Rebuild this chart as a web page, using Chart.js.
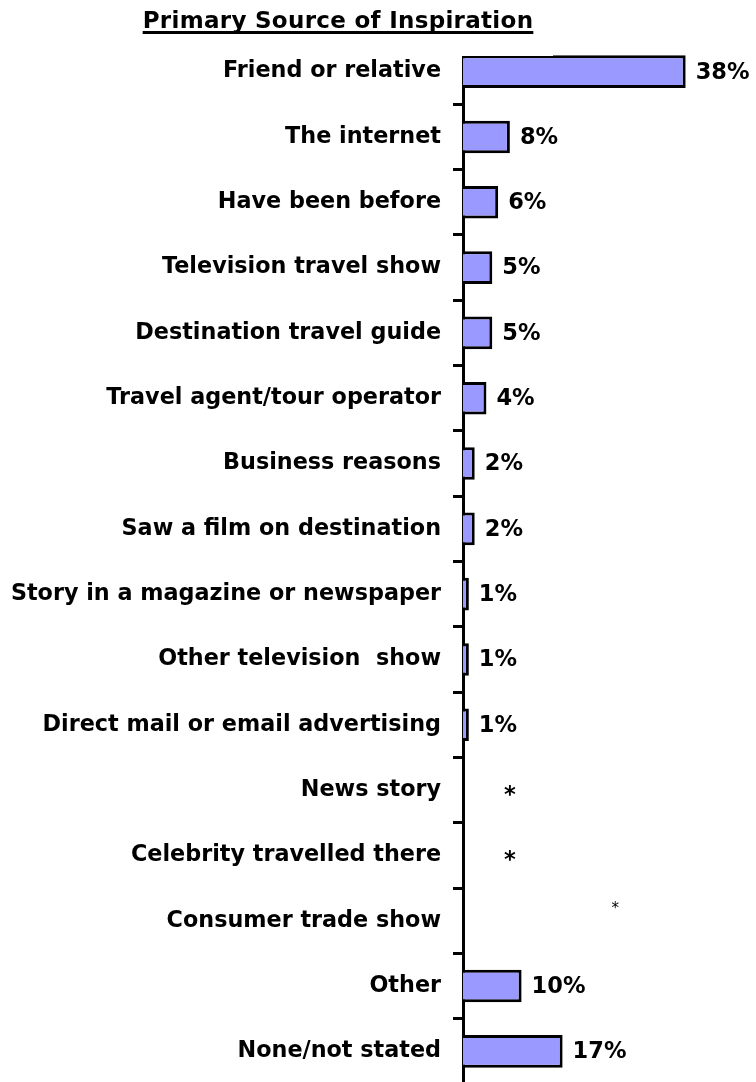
<!DOCTYPE html>
<html>
<head>
<meta charset="utf-8">
<script src="https://cdn.jsdelivr.net/npm/chart.js@4/dist/chart.umd.min.js"></script>
<style>
  html, body { margin: 0; padding: 0; background: #ffffff; overflow: hidden; }
  #wrap { width: 756px; height: 1084px; }
</style>
</head>
<body>
<div id="wrap"><canvas id="c" width="756" height="1084"></canvas></div>
<script>
// Survey results: main source of inspiration for choosing the destination
const chartTitle = 'Primary Source of Inspiration';

const categories = [
  'Friend or relative',
  'The internet',
  'Have been before',
  'Television travel show',
  'Destination travel guide',
  'Travel agent/tour operator',
  'Business reasons',
  'Saw a film on destination',
  'Story in a magazine or newspaper',
  'Other television  show',
  'Direct mail or email advertising',
  'News story',
  'Celebrity travelled there',
  'Consumer trade show',
  'Other',
  'None/not stated'
];

// percent of respondents; null = below 0.5% (shown as *)
const shares = [38, 8, 6, 5, 5, 4, 2, 2, 1, 1, 1, null, null, null, 10, 17];

const shareLabels = ['38%', '8%', '6%', '5%', '5%', '4%', '2%', '2%', '1%', '1%', '1%', '*', '*', '*', '10%', '17%'];

const FONT = '"DejaVu Sans", Verdana, sans-serif';

// Title with its white backing box and underline
const titlePlugin = {
  id: 'titleBox',
  afterDatasetsDraw(chart) {
    const ctx = chart.ctx;
    ctx.save();
    ctx.fillStyle = '#ffffff';
    ctx.fillRect(0, 0, 553, 56);
    ctx.font = 'bold 23px ' + FONT;
    ctx.letterSpacing = '0.3px';
    ctx.fillStyle = '#000000';
    ctx.textAlign = 'left';
    ctx.textBaseline = 'alphabetic';
    const w = ctx.measureText(chartTitle).width;
    const x0 = 338 - w / 2;
    const base = 28;
    ctx.fillText(chartTitle, x0, base);
    ctx.fillRect(x0, base + 3, w, 3);
    ctx.restore();
  }
};

// Value labels at the end of each bar; asterisks for values under 0.5%
const valueLabelPlugin = {
  id: 'valueLabels',
  afterDatasetsDraw(chart) {
    const ctx = chart.ctx;
    const xs = chart.scales.x;
    const ys = chart.scales.y;
    ctx.save();
    ctx.fillStyle = '#000000';
    ctx.textBaseline = 'middle';
    let starCount = 0;
    shares.forEach((v, i) => {
      const y = ys.getPixelForValue(i);
      if (v !== null) {
        ctx.font = 'bold 22.5px ' + FONT;
        ctx.textAlign = 'left';
        ctx.fillText(shareLabels[i], xs.getPixelForValue(v) + 10, y + 1);
      } else {
        starCount++;
        ctx.textAlign = 'center';
        if (starCount < 3) {
          ctx.font = 'bold 22.5px ' + FONT;
          ctx.fillText(shareLabels[i], xs.getPixelForValue(8), y + 6);
        } else {
          ctx.font = '15px ' + FONT;
          ctx.fillText(shareLabels[i], xs.getPixelForValue(26), y - 12);
        }
      }
    });
    ctx.restore();
  }
};

new Chart(document.getElementById('c'), {
  type: 'bar',
  data: {
    labels: categories,
    datasets: [{
      data: shares,
      backgroundColor: '#9999FF',
      borderColor: '#000000',
      borderWidth: 3,
      barPercentage: 0.5,
      categoryPercentage: 1.0
    }]
  },
  options: {
    indexAxis: 'y',
    responsive: false,
    animation: false,
    layout: { padding: { top: 39, left: 0, right: 0, bottom: 0 } },
    plugins: {
      legend: { display: false },
      title: { display: false },
      tooltip: { enabled: false }
    },
    scales: {
      x: {
        display: false,
        min: 0,
        max: 50
      },
      y: {
        afterFit(scale) {
          scale.width = 463;
          scale.paddingTop = 0;
          scale.paddingBottom = 0;
        },
        grid: {
          display: true,
          offset: true,
          drawOnChartArea: false,
          drawTicks: true,
          tickLength: 10,
          color: '#000000',
          lineWidth: 3
        },
        border: { display: true, color: '#000000', width: 3 },
        ticks: {
          color: '#000000',
          padding: 12,
          autoSkip: false,
          font: { family: FONT, size: 22.3, weight: 'bold' }
        }
      }
    }
  },
  plugins: [titlePlugin, valueLabelPlugin]
});
</script>
</body>
</html>
